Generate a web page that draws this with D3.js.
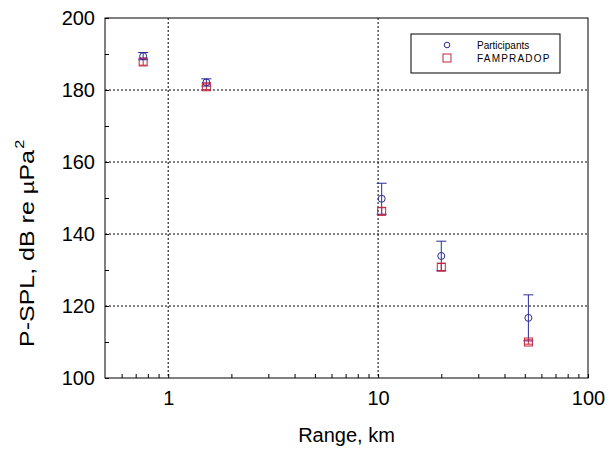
<!DOCTYPE html>
<html>
<head>
<meta charset="utf-8">
<script src="https://cdn.jsdelivr.net/npm/d3@7"></script>
<style>
  body { margin: 0; background: #fff; }
  text { font-family: Arial, "Liberation Sans", sans-serif; }
</style>
</head>
<body>
<script>
// data
const ranges = [0.76, 1.52, 10.4, 20, 52];
const participants = [189.4, 182.1, 149.8, 133.9, 116.7];
const participantsErr = [1.0, 1.0, 4.3, 4.1, 6.4];
const fampradop = [187.8, 180.9, 146.3, 130.8, 110.0];
const fampradopErr = [0.9, 0.8, 1.0, 1.0, 0.6];
const yTicks = [100, 120, 140, 160, 180, 200];
const xTicks = [1, 10, 100];

const W = 611, H = 450;
const margin = {top: 18, right: 23, bottom: 72, left: 105};
const width = W - margin.left - margin.right,
      height = H - margin.top - margin.bottom;

const svg = d3.select("body").append("svg")
    .attr("width", W)
    .attr("height", H);

const g = svg.append("g")
    .attr("transform", `translate(${margin.left},${margin.top})`);

const x = d3.scaleLog().domain([0.5, 100]).range([0, width]);
const y = d3.scaleLinear().domain([100, 200]).range([height, 0]);

// gridlines (dotted)
g.selectAll(".gy").data(yTicks.filter(d => d > 100 && d < 200)).enter()
  .append("line")
    .attr("x1", 0).attr("x2", width)
    .attr("y1", d => y(d)).attr("y2", d => y(d))
    .attr("stroke", "#000").attr("stroke-width", 1)
    .attr("stroke-dasharray", "2,2");
g.selectAll(".gx").data(xTicks.filter(d => d < 100)).enter()
  .append("line")
    .attr("x1", d => x(d)).attr("x2", d => x(d))
    .attr("y1", 0).attr("y2", height)
    .attr("stroke", "#000").attr("stroke-width", 1)
    .attr("stroke-dasharray", "2,2");

// axes with ticks pointing inside
const yAxis = g.append("g")
  .call(d3.axisLeft(y).tickValues(d3.range(100, 201, 10))
    .tickSize(-4).tickPadding(10)
    .tickFormat(d => d % 20 === 0 ? d : ""));
const minorX = [];
[0.1, 1, 10].forEach(dec => d3.range(1, 10).forEach(k => {
  const v = +(dec * k).toPrecision(3);
  if (v > 0.5) minorX.push(v);
}));
minorX.push(100);
const xAxis = g.append("g")
  .attr("transform", `translate(0,${height})`)
  .call(d3.axisBottom(x).tickValues(minorX)
    .tickSize(-4).tickPadding(11)
    .tickFormat(d => xTicks.includes(d) ? d : ""));
[yAxis, xAxis].forEach(a => {
  a.select(".domain").remove();
  a.selectAll("text").style("font-size", "20px").attr("fill", "#000");
  a.selectAll(".tick line").attr("stroke", "#000");
});
xAxis.selectAll("text").attr("dy", "0.8em");

// frame
g.append("rect")
  .attr("width", width).attr("height", height)
  .attr("fill", "none").attr("stroke", "#000").attr("stroke-width", 1);

// axis titles
svg.append("text")
  .attr("x", margin.left + width / 2).attr("y", 442)
  .attr("text-anchor", "middle")
  .style("font-size", "20px")
  .text("Range, km");

// y title is drawn stretched along its length, like the reference
const yl = svg.append("text")
  .attr("transform", "translate(34,347) rotate(-90) scale(1.25,1)")
  .style("font-size", "20px");
yl.append("tspan").text("P-SPL, dB re ");
yl.append("tspan").text("µ").style("font-size", "19px");
yl.append("tspan").text("Pa");
yl.append("tspan").text("2").attr("dy", -10).attr("dx", 1).style("font-size", "13px");

const blue = "#2b2b9a", red = "#c2263f";

// error bars
function errorBars(vals, errs, color, cap) {
  const eb = g.append("g");
  ranges.forEach((r, i) => {
    const cx = x(r);
    eb.append("line")
      .attr("x1", cx).attr("x2", cx)
      .attr("y1", y(vals[i] + errs[i])).attr("y2", y(vals[i] - errs[i]))
      .attr("stroke", color).attr("stroke-width", 1);
    [vals[i] + errs[i], vals[i] - errs[i]].forEach(v => {
      eb.append("line")
        .attr("x1", cx - cap).attr("x2", cx + cap)
        .attr("y1", y(v)).attr("y2", y(v))
        .attr("stroke", color).attr("stroke-width", 1);
    });
  });
}
errorBars(participants, participantsErr, blue, 5);
errorBars(fampradop, fampradopErr, red, 4);

// markers
g.selectAll(".sq").data(ranges).enter()
  .append("rect")
    .attr("x", (d) => x(d) - 4)
    .attr("y", (d, i) => y(fampradop[i]) - 4)
    .attr("width", 8).attr("height", 8)
    .attr("fill", "none").attr("stroke", red).attr("stroke-width", 1);
g.selectAll(".ci").data(ranges).enter()
  .append("circle")
    .attr("cx", d => x(d))
    .attr("cy", (d, i) => y(participants[i]))
    .attr("r", 3.5)
    .attr("fill", "none").attr("stroke", blue).attr("stroke-width", 1);

// legend
const lg = svg.append("g").attr("transform", "translate(411,34)");
lg.append("rect")
  .attr("width", 149).attr("height", 39)
  .attr("fill", "#fff").attr("stroke", "#000").attr("stroke-width", 1);
lg.append("circle").attr("cx", 36).attr("cy", 11).attr("r", 2.8)
  .attr("fill", "none").attr("stroke", blue);
lg.append("rect").attr("x", 32).attr("y", 20).attr("width", 8).attr("height", 8)
  .attr("fill", "none").attr("stroke", red);
lg.append("text").attr("x", 66).attr("y", 15)
  .style("font-size", "10px").text("Participants");
lg.append("text").attr("x", 66).attr("y", 28)
  .style("font-size", "10px").style("letter-spacing", "1.2px").text("FAMPRADOP");
</script>
</body>
</html>
